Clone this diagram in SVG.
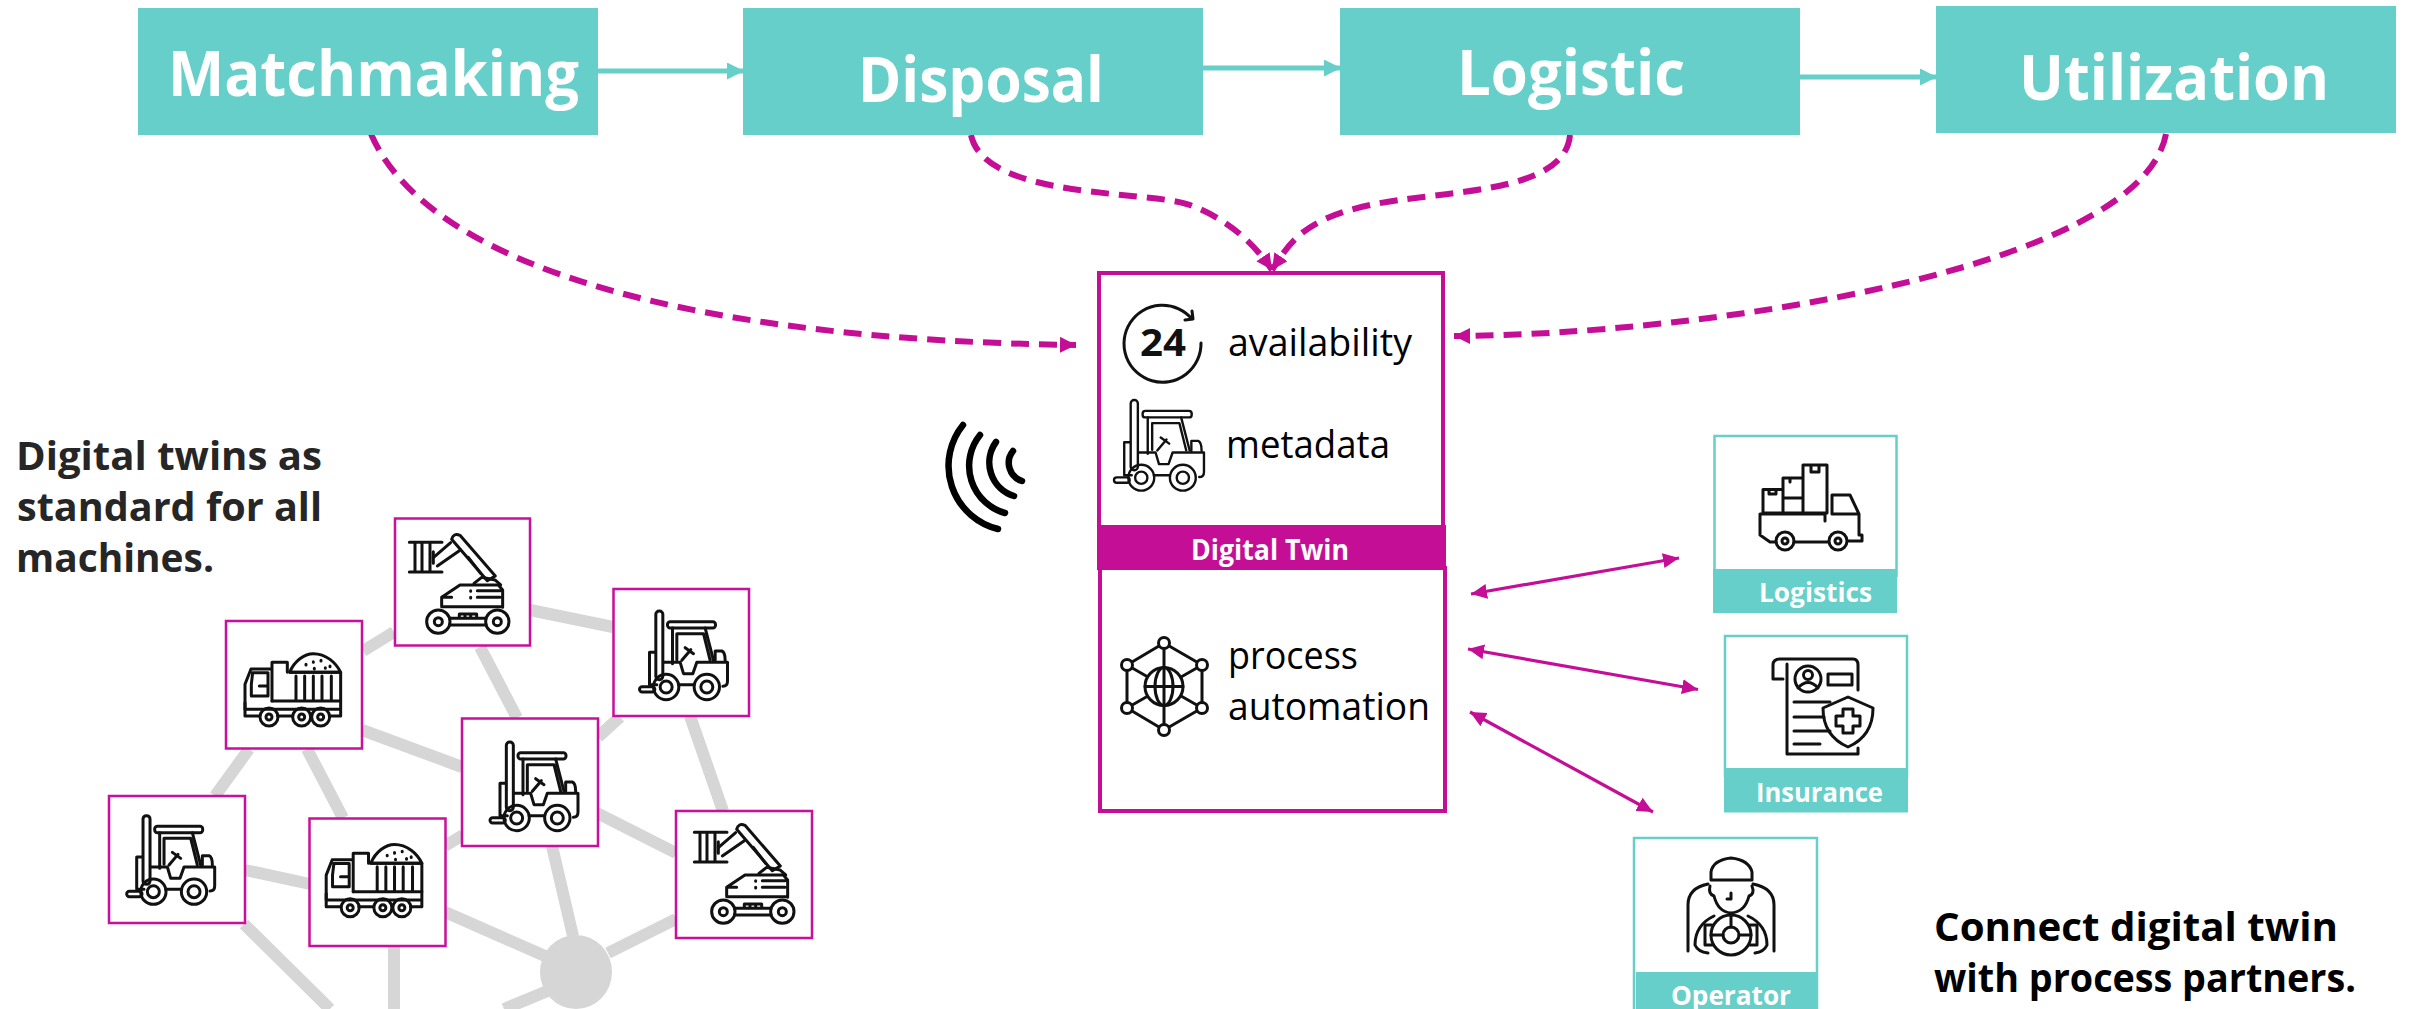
<svg xmlns="http://www.w3.org/2000/svg" width="2409" height="1009" viewBox="0 0 2409 1009">
<style>
text{font-family:"Open Sans","Noto Sans","Liberation Sans",sans-serif}
.top{fill:#66CFC9}
.topt{fill:#fff;font-weight:700;font-size:62px}
.band{fill:#fff;font-weight:700;font-size:26px}
.body{fill:#000;font-size:39px}
.note{font-weight:700;font-size:40px}
.mb{fill:#fff;stroke:#C90F9B;stroke-width:2.5}
.pb{fill:#fff;stroke:#66CFC9;stroke-width:2.5}
.net{stroke:#D6D6D6;stroke-width:12;fill:none}
.ic{fill:none;stroke:#111;stroke-linecap:round;stroke-linejoin:round}
.mach{stroke-width:9}
.ic2{fill:none;stroke:#111;stroke-width:3;stroke-linecap:round;stroke-linejoin:round}
.flow{fill:none;stroke:#66CFC9;stroke-width:5}
.dash{fill:none;stroke:#C50E96;stroke-width:6;stroke-dasharray:18 10}
.dbl{fill:none;stroke:#C50E96;stroke-width:3.2}
.wifi{fill:none;stroke:#000;stroke-width:6.5;stroke-linecap:round}
</style>
<defs>
<marker id="mt" markerUnits="userSpaceOnUse" markerWidth="17" markerHeight="17" refX="16" refY="8.5" orient="auto"><path d="M0 0L17 8.500L0 17Z" fill="#66CFC9"/></marker>
<marker id="md" markerUnits="userSpaceOnUse" markerWidth="18" markerHeight="18" refX="16" refY="8" orient="auto"><path d="M0 0L16 8L0 16Z" fill="#C50E96"/></marker>
<marker id="ms" markerUnits="userSpaceOnUse" markerWidth="18" markerHeight="16" refX="16" refY="7.5" orient="auto-start-reverse"><path d="M0 0L16 7.500L0 15Z" fill="#C50E96"/></marker>
<g id="forklift" class="ic">
<rect x="827" y="304" width="21" height="206" rx="10"/>
<rect x="862" y="336" width="144" height="19" rx="8"/>
<path d="M877 355V462M890 450V372H970L990 452M975 355L1000 452"/>
<path d="M825 428H808V525H830"/>
<rect x="778" y="531" width="46" height="16" rx="8"/>
<path d="M850 458H900L910 492H938L950 458H1042V515Q1042 530 1028 530M895 525H942M1005 452V424H1025Q1035 428 1035 452"/>
<path d="M905 452L932 420M915 414L940 432"/>
<circle cx="858" cy="532" r="38"/><circle cx="858" cy="532" r="18"/>
<circle cx="980" cy="532" r="38"/><circle cx="980" cy="532" r="18"/>
</g>
<g id="excavator" class="ic">
<path d="M88 97H186M88 186H186M105 97V186M126 97V186M150 97V186M160 125V160"/>
<path d="M160 143L212 98M172 168L238 122"/>
<path d="M215 88Q220 68 240 76L346 198L322 212L215 88Z"/>
<path d="M265 142L302 190"/>
<path d="M185 288V262L240 225H355L368 240V292M185 290H368M292 242H360M292 262H360M272 242V244M272 262V264M190 262H215"/>
<path d="M282 220L305 202L345 210L362 225"/>
<path d="M238 322V312H290V322M255 312V322M272 312V322"/>
<path d="M210 325H318M210 345H318"/>
<circle cx="175" cy="335" r="35"/><circle cx="175" cy="335" r="12"/>
<circle cx="352" cy="335" r="35"/><circle cx="352" cy="335" r="12"/>
</g>
<g id="dump" class="ic">
<path d="M191 154C205 120 235 98 262 98C300 98 330 125 344 154Z"/>
<path d="M240 130V132M262 122V124M285 118V120M298 140V142M265 142V144M312 135V137"/>
<path d="M191 154H344V240H138M210 165V235M236 165V235M262 165V235M288 165V235M316 165V235"/>
<path d="M138 124H184V154M138 124V240M57 265V190L75 144H138M80 155H126V225H76V190ZM100 195H122"/>
<path d="M57 245V285H100M57 265H344M155 285H198M256 285V285M310 285H344V240"/>
<circle cx="129" cy="288" r="27"/><circle cx="129" cy="288" r="9"/>
<circle cx="227" cy="288" r="27"/><circle cx="227" cy="288" r="9"/>
<circle cx="284" cy="288" r="27"/><circle cx="284" cy="288" r="9"/>
</g>
</defs>
<rect width="2409" height="1009" fill="#fff"/>

<g id="network">
<path class="net" d="M530 610L613 627M394 632L363 651M480 647L517 718M620 717L598 737M690 716L723 811M362 730L462 767M249 749L215 796M307 749L343 818M245 870L310 884M445 846L463 835M597 813L676 853M552 846L573 936M676 919L608 953M445 912L545 956M394 946V1009M244 924L330 1009M550 990L504 1009"/>
<ellipse cx="576" cy="972" rx="36" ry="37" fill="#D6D6D6"/>
</g>

<g id="machine-excavator-1"><rect class="mb" x="395" y="518.5" width="135" height="127"/><use class="mach" href="#excavator" transform="translate(380 510) scale(.3333)"/></g>
<g id="machine-forklift-1"><rect class="mb" x="613.5" y="589" width="135.500" height="127"/><use class="mach" href="#forklift" transform="translate(613.500 589) scale(.3333) translate(-700 -238)"/></g>
<g id="machine-truck-1"><rect class="mb" x="226" y="621" width="136" height="127.500"/><use class="mach" href="#dump" transform="translate(226 621) scale(.3333)"/></g>
<g id="machine-forklift-2"><rect class="mb" x="462" y="718.5" width="136" height="127.500"/><use class="mach" href="#forklift" transform="translate(464 720) scale(.3333) translate(-700 -238)"/></g>
<g id="machine-forklift-3"><rect class="mb" x="109" y="796" width="136" height="127"/><use class="mach" href="#forklift" transform="translate(100.700 793.700) scale(.3333) translate(-700 -238)"/></g>
<g id="machine-truck-2"><rect class="mb" x="309.5" y="818.500" width="136" height="127.500"/><use class="mach" href="#dump" transform="translate(307.200 811.800) scale(.3333)"/></g>
<g id="machine-excavator-2"><rect class="mb" x="676" y="811" width="136" height="127"/><use class="mach" href="#excavator" transform="translate(665 800) scale(.3333)"/></g>

<g id="connectors">
<path class="flow" d="M598 71H743" marker-end="url(#mt)"/>
<path class="flow" d="M1203 68H1340" marker-end="url(#mt)"/>
<path class="flow" d="M1799 77H1936" marker-end="url(#mt)"/>
<path class="dash" d="M371 134C430 270 700 340 1076 345" marker-end="url(#md)"/>
<path class="dash" d="M971 135C985 200 1150 190 1190 205S1255 245 1272 270" marker-end="url(#md)"/>
<path class="dash" d="M1570 135C1565 195 1440 190 1370 205S1289 245 1272 270" marker-end="url(#md)"/>
<path class="dash" d="M2166 134C2140 270 1700 335 1454 336" marker-end="url(#md)"/>
<path class="dbl" d="M1471 594L1679 558" marker-start="url(#ms)" marker-end="url(#ms)"/>
<path class="dbl" d="M1468 649L1698 689.500" marker-start="url(#ms)" marker-end="url(#ms)"/>
<path class="dbl" d="M1470 712L1653 812" marker-start="url(#ms)" marker-end="url(#ms)"/>
</g>

<g id="step-matchmaking"><rect class="top" x="138" y="8" width="460" height="127"/><text class="topt" x="168" y="96" textLength="411" lengthAdjust="spacingAndGlyphs">Matchmaking</text></g>
<g id="step-disposal"><rect class="top" x="743" y="8" width="460" height="127"/><text class="topt" x="858" y="102" textLength="246" lengthAdjust="spacingAndGlyphs">Disposal</text></g>
<g id="step-logistic"><rect class="top" x="1340" y="8" width="460" height="127"/><text class="topt" x="1457" y="95" textLength="228" lengthAdjust="spacingAndGlyphs">Logistic</text></g>
<g id="step-utilization"><rect class="top" x="1936" y="6" width="460" height="127"/><text class="topt" x="2019" y="100" textLength="310" lengthAdjust="spacingAndGlyphs">Utilization</text></g>

<g id="digital-twin">
<rect x="1100" y="568" width="345" height="243" fill="#fff" stroke="#C50E96" stroke-width="4"/>
<rect x="1099" y="273" width="344" height="254" fill="#fff" stroke="#C50E96" stroke-width="4"/>
<rect x="1097" y="525" width="349" height="45" fill="#C50E96"/>
<text x="1191" y="560" fill="#fff" font-weight="700" font-size="28" textLength="158" lengthAdjust="spacingAndGlyphs">Digital Twin</text>
<path class="ic2" d="M1201 343A38.500 38.500 0 1 1 1192 319M1192 311L1193 319L1185 320"/>
<text x="1140" y="356" fill="#111" font-weight="700" font-size="38" textLength="46" lengthAdjust="spacingAndGlyphs">24</text>
<text class="body" x="1228" y="356" textLength="184" lengthAdjust="spacingAndGlyphs">availability</text>
<use class="ic" style="stroke-width:7" href="#forklift" transform="translate(1114 400) scale(.3408) translate(-778 -304)"/>
<text class="body" x="1226" y="458" textLength="164" lengthAdjust="spacingAndGlyphs">metadata</text>
<g class="ic2">
<path d="M1164 643L1202 665V708L1164 730L1127 708V665ZM1164 643V730M1127 665L1202 708M1202 665L1127 708" />
<circle cx="1164" cy="686.500" r="19" fill="#fff"/>
<ellipse cx="1164" cy="686.500" rx="9" ry="19"/>
<path d="M1145 686.500H1183M1164 667.500V705.500"/>
<circle cx="1164" cy="643" r="5.500" fill="#fff"/><circle cx="1202" cy="665" r="5.500" fill="#fff"/><circle cx="1202" cy="708" r="5.500" fill="#fff"/><circle cx="1164" cy="730" r="5.500" fill="#fff"/><circle cx="1127" cy="708" r="5.500" fill="#fff"/><circle cx="1127" cy="665" r="5.500" fill="#fff"/>
</g>
<text class="body" x="1228" y="669" textLength="130" lengthAdjust="spacingAndGlyphs">process</text>
<text class="body" x="1228" y="720" textLength="202" lengthAdjust="spacingAndGlyphs">automation</text>
</g>

<g id="wireless">
<path class="wifi" d="M963 425A65 65 0 0 0 998 529"/>
<path class="wifi" d="M980 435A49 49 0 0 0 1005 513"/>
<path class="wifi" d="M996 442A35 35 0 0 0 1014 496"/>
<path class="wifi" d="M1013 451A19 19 0 0 0 1022 481"/>
</g>

<g id="partner-logistics">
<rect class="pb" x="1714.500" y="436" width="182" height="140"/>
<rect class="top" x="1713" y="569" width="184" height="44"/>
<text class="band" x="1759" y="602" textLength="113" lengthAdjust="spacingAndGlyphs">Logistics</text>
<path class="ic2" d="M1763 513V489.500H1783M1783 513V478H1803V513M1783 498H1803M1803 513V465H1827V513H1763M1760 514H1825V521M1760 514V535L1770 542H1776M1794 542H1828M1832 514V495H1850L1859 514V535H1862V541H1848M1832 514H1859M1769 490V494H1776V490M1790 478V482M1811 465V472H1819V465"/>
<circle class="ic2" cx="1785" cy="541" r="9"/><circle class="ic2" cx="1785" cy="541" r="3"/>
<circle class="ic2" cx="1838" cy="541" r="9"/><circle class="ic2" cx="1838" cy="541" r="3"/>
</g>

<g id="partner-insurance">
<rect class="pb" x="1725" y="636" width="182" height="140"/>
<rect class="top" x="1724" y="768" width="184" height="44.500"/>
<text class="band" x="1756" y="802" textLength="127" lengthAdjust="spacingAndGlyphs">Insurance</text>
<path class="ic2" d="M1783 679H1773V665Q1773 659 1780 659H1853Q1858 659 1858 665V690M1787 664V754H1858V748"/>
<circle class="ic2" cx="1808" cy="679" r="13"/><circle class="ic2" cx="1808" cy="675" r="4.500"/>
<path class="ic2" d="M1798 688Q1808 677 1818 688"/>
<rect class="ic2" x="1828" y="674" width="24" height="11"/>
<path class="ic2" d="M1794 702H1830M1794 717H1824M1794 731H1830M1794 744H1820"/>
<path class="ic2" d="M1848 697L1873 708C1873 728 1864 740 1848 747C1832 740 1823 728 1823 708Z" fill="#fff"/>
<path class="ic2" d="M1843 709H1853V716H1860V726H1853V733H1843V726H1836V716H1843Z"/>
</g>

<g id="partner-operator">
<rect class="pb" x="1634" y="838" width="183" height="180"/>
<rect class="top" x="1636" y="972" width="182" height="37"/>
<text class="band" x="1671" y="1005" textLength="120" lengthAdjust="spacingAndGlyphs">Operator</text>
<path class="ic2" d="M1711 880V872Q1713 860 1731 858Q1749 860 1752 872V880ZM1711 880H1752"/>
<path class="ic2" d="M1710 886Q1708 894 1714 896Q1718 912 1731 913Q1745 912 1749 896Q1755 894 1752 886M1731 893V899H1727"/>
<path class="ic2" d="M1708 884Q1688 888 1688 905V951M1753 884Q1774 888 1774 905V951"/>
<path class="ic2" d="M1714 916Q1695 925 1695 945Q1698 952 1708 953M1748 916Q1767 925 1767 945Q1764 952 1755 953"/>
<circle class="ic2" cx="1731" cy="935" r="20"/><circle class="ic2" cx="1731" cy="935" r="8"/>
<path class="ic2" d="M1712 925H1705V945H1712M1750 925H1757V945H1750M1731 915V927M1723 935H1711M1739 935H1751"/>
</g>

<g id="notes">
<text class="note" fill="#262626" x="16" y="470" textLength="306" lengthAdjust="spacingAndGlyphs">Digital twins as</text>
<text class="note" fill="#262626" x="17" y="521" textLength="305" lengthAdjust="spacingAndGlyphs">standard for all</text>
<text class="note" fill="#262626" x="16" y="572" textLength="198" lengthAdjust="spacingAndGlyphs">machines.</text>
<text class="note" fill="#000" x="1934" y="941" textLength="404" lengthAdjust="spacingAndGlyphs">Connect digital twin</text>
<text class="note" fill="#000" x="1934" y="992" textLength="422" lengthAdjust="spacingAndGlyphs">with process partners.</text>
</g>
</svg>
